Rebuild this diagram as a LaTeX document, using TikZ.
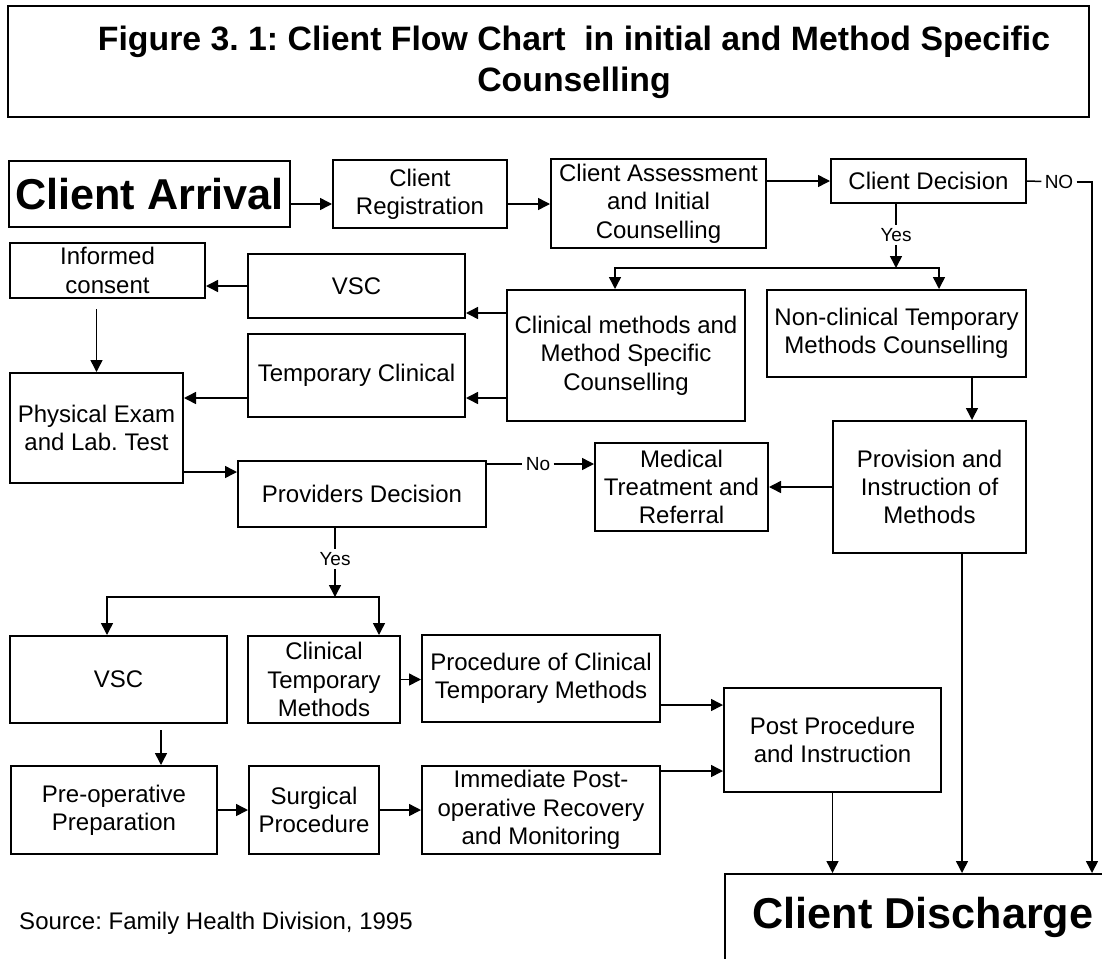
\documentclass[tikz,border=0pt]{standalone}
\usepackage{fontspec}
\setmainfont{Liberation Sans}
\usepackage{tikz}
\usetikzlibrary{arrows.meta}
\frenchspacing

\begin{document}
\begin{tikzpicture}[x=0.5pt, y=-0.5pt,
  box/.style={draw, line width=1pt, align=center, inner sep=2pt,
    font=\fontsize{12}{14.2}\selectfont},
  bigbox/.style={box, font=\fontsize{21.6}{26}\selectfont\bfseries},
  link/.style={line width=.75pt},
  arr/.style={link, -{Triangle[length=6pt, width=6pt]}},
  lbl/.style={inner sep=1.5pt, font=\fontsize{9.5}{11}\selectfont}]

  % page frame
  \useasboundingbox (0,0) rectangle (1102,958);
  \clip (0,0) rectangle (1102,958);

  % title
  \node[box, minimum width=540.5pt, minimum height=55.5pt] (title) at (548.5,61.5) {};
  \node[align=center, font=\fontsize{16.9}{20.5}\selectfont\bfseries] (titletext) at (574,62)
    {Figure 3. 1: Client Flow Chart~ in initial and Method Specific\\Counselling};

  % initial counselling
  \node[bigbox, minimum width=140.5pt, minimum height=33pt] (arrival) at (149.5,194) {Client Arrival};
  \node[box, minimum width=87pt, minimum height=34pt] (reg) at (420,194) {Client\\Registration};
  \node[box, minimum width=107.5pt, minimum height=44.5pt] (assess) at (658.5,203.5)
    {Client Assessment\\and Initial\\Counselling};
  \node[box, minimum width=97.5pt, minimum height=22pt] (decision) at (928.5,181) {Client Decision};

  % method specific counselling
  \node[box, minimum width=97.5pt, minimum height=27.5pt] (consent) at (107.5,270.5) {Informed\\consent};
  \node[box, minimum width=108.5pt, minimum height=32pt] (vsca) at (356.5,286) {VSC};
  \node[box, minimum width=119pt, minimum height=65.5pt] (clinical) at (626,355.5)
    {Clinical methods and\\Method Specific\\Counselling};
  \node[box, minimum width=129.5pt, minimum height=43.5pt] (nonclin) at (896.5,333.5)
    {Non-clinical Temporary\\Methods Counselling};
  \node[box, minimum width=108.5pt, minimum height=41.5pt] (tempclin) at (356.5,375.5) {Temporary Clinical};
  \node[box, minimum width=86.5pt, minimum height=55pt] (physical) at (96.5,428) {Physical Exam\\and Lab. Test};
  \node[box, minimum width=124pt, minimum height=33pt] (providers) at (362,494) {Providers Decision};
  \node[box, minimum width=86.5pt, minimum height=44pt] (medical) at (681.5,487)
    {Medical\\Treatment and\\Referral};
  \node[box, minimum width=96.5pt, minimum height=66pt] (provision) at (929.5,487)
    {Provision and\\Instruction of\\Methods};

  % procedures
  \node[box, minimum width=108.5pt, minimum height=43.5pt] (vscb) at (118.5,679.5) {VSC};
  \node[box, minimum width=76pt, minimum height=43.5pt] (ctm) at (324,679.5) {Clinical\\Temporary\\Methods};
  \node[box, minimum width=119pt, minimum height=43.5pt] (procedure) at (541,678.5)
    {Procedure of Clinical\\Temporary Methods};
  \node[box, minimum width=108.5pt, minimum height=52pt] (post) at (832.5,740) {Post Procedure\\and Instruction};
  \node[box, minimum width=103pt, minimum height=44pt] (preop) at (114,810) {Pre-operative\\Preparation};
  \node[box, minimum width=65pt, minimum height=44pt] (surgical) at (314,810) {Surgical\\Procedure};
  \node[box, minimum width=119pt, minimum height=44pt] (immediate) at (541,810)
    {Immediate Post-\\operative Recovery\\and Monitoring};
  \node[bigbox, minimum width=198pt, minimum height=43pt] (discharge) at (923,917) {Client Discharge};

  \node[font=\fontsize{12}{14}\selectfont] (source) at (216,923) {Source: Family Health Division, 1995};

  % top row
  \draw[arr] (arrival.east |- 0,204) -- (reg.west |- 0,204);
  \draw[arr] (reg.east |- 0,204) -- (assess.west |- 0,204);
  \draw[arr] (assess.east |- decision) -- (decision);

  % client decision
  \node[lbl] (noa) at (1059,182) {NO};
  \draw[link] (decision.east) -- (noa);
  \draw[arr] (noa) -| (discharge.north -| 1092,0);
  \node[lbl] (yesa) at (896,235) {Yes};
  \coordinate (splita) at (896,268);
  \draw[link] (decision.south -| yesa) -- (yesa);
  \draw[arr] (yesa) -- (splita);
  \draw[arr] (splita) -| (clinical.north -| 615,0);
  \draw[arr] (splita) -| (nonclin.north -| 939,0);

  % clinical branch
  \draw[arr] (clinical.west |- 0,313) -- (vsca.east |- 0,313);
  \draw[arr] (clinical.west |- 0,398) -- (tempclin.east |- 0,398);
  \draw[arr] (vsca.west) -- (consent.east |- vsca.west);
  \draw[arr, shorten <=5pt] (consent.south -| physical) -- (physical);
  \draw[arr] (tempclin.west |- 0,398) -- (physical.east |- 0,398);
  \draw[arr] (physical.east |- 0,472) -- (providers.west |- 0,472);

  % non-clinical branch
  \draw[arr] (nonclin.south -| 972,0) -- (provision.north -| 972,0);
  \draw[arr] (provision) -- (medical);
  \draw[arr] (provision.south -| 962,0) -- (discharge.north -| 962,0);

  % providers decision
  \node[lbl] (nob) at (538,464) {No};
  \draw[link] (providers.east |- nob) -- (nob);
  \draw[arr] (nob) -- (medical.west |- nob);
  \node[lbl] (yesb) at (335,559) {Yes};
  \coordinate (splitb) at (335,597);
  \draw[link] (providers.south -| yesb) -- (yesb);
  \draw[arr] (yesb) -- (splitb);
  \draw[arr] (splitb) -| (vscb.north -| 107,0);
  \draw[arr] (splitb) -| (ctm.north -| 379,0);

  % procedures
  \draw[arr] (ctm.east) -- (procedure.west |- ctm.east);
  \draw[arr] (procedure.east |- 0,705) -- (post.west |- 0,705);
  \draw[arr, shorten <=3pt] (vscb.south -| 161,0) -- (preop.north -| 161,0);
  \draw[arr] (preop) -- (surgical);
  \draw[arr] (surgical) -- (immediate);
  \draw[arr] (immediate.east |- 0,771) -- (post.west |- 0,771);
  \draw[arr] (post.south) -- (discharge.north -| post.south);

\end{tikzpicture}
\end{document}
